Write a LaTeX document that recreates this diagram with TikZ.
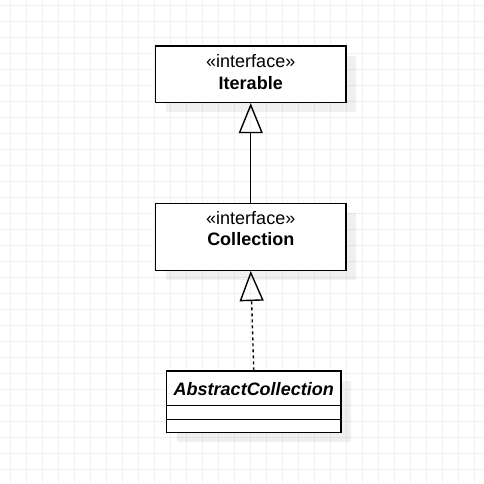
\documentclass[tikz,border=0pt]{standalone}
\usepackage{fontspec}
\setmainfont{Liberation Sans}
\usetikzlibrary{arrows.meta,calc}
\definecolor{gridc}{HTML}{F1F1F1}
\tikzset{
  umlbox/.style={draw=black, fill=white, line width=1.4pt, inner sep=0pt, rectangle},
  shadowbox/.style={fill=black, fill opacity=0.06, draw=none},
  umltext/.style={anchor=base, inner sep=0pt, font=\fontsize{18}{21.6}\selectfont},
  gen/.style={line width=1.4pt, -{Triangle[open, width=24pt, length=30pt, line width=1.4pt]}},
  realize/.style={gen, dash pattern=on 3pt off 3pt}
}
\begin{document}
\begin{tikzpicture}[x=1pt,y=-1pt]
\useasboundingbox (0,0) rectangle (484,483);
\fill[white] (0,0) rectangle (484,483);
% grid
\foreach \gx in {0,...,29} { \draw[gridc, line width=1pt] (10.5+16*\gx,0) -- (10.5+16*\gx,483); }
\foreach \gy in {0,...,29} { \draw[gridc, line width=1pt] (0,5.3+16*\gy) -- (484,5.3+16*\gy); }
% shadows
\fill[shadowbox] (165.5,55.5) rectangle (356,112);
\fill[shadowbox] (165.5,212.8) rectangle (356,279.8);
\fill[shadowbox] (176.5,380.5) rectangle (351,442.2);
% boxes
\node[umlbox, minimum width=190.5pt, minimum height=56.5pt] (iter) at (250.75,74.25) {};
\node[umlbox, minimum width=190.5pt, minimum height=67pt] (coll) at (250.75,236.8) {};
\node[umlbox, minimum width=174.5pt, minimum height=61.7pt] (abs) at (253.75,401.85) {};
% texts
\node[umltext] (iterst) at (250.75,67.7) {«interface»};
\node[umltext, font=\fontsize{18}{21.6}\selectfont\bfseries] (itername) at (250.75,89) {Iterable};
\node[umltext] (collst) at (250.75,224.3) {«interface»};
\node[umltext, font=\fontsize{18}{21.6}\selectfont\bfseries] (collname) at (250.75,245) {Collection};
\node[umltext, font=\fontsize{18}{21.6}\selectfont\bfseries\itshape] (absname) at (253.75,395) {AbstractCollection};
% compartments
\draw[line width=1.4pt] ($(abs.north west)+(0,35)$) coordinate (d1l) -- ($(abs.north east)+(0,35)$) coordinate (d1r);
\draw[line width=1.4pt] ($(abs.north west)+(0,49.3)$) coordinate (d2l) -- ($(abs.north east)+(0,49.3)$) coordinate (d2r);
% connectors
\draw[gen] (coll.north) -- (iter.south);
\draw[realize] (abs.north) -- (coll.south);
\end{tikzpicture}
\end{document}
